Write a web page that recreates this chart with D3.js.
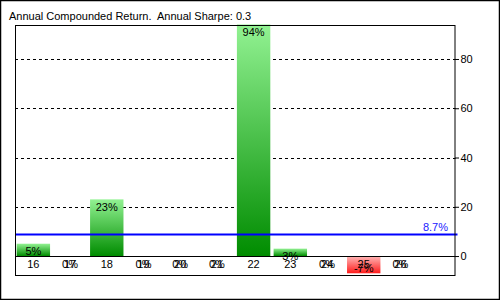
<!DOCTYPE html>
<html lang="en">
    <head>
        <meta charset="utf-8">
        <title>Annual Compounded Return</title>
        <script type="text/javascript" src="https://cdn.jsdelivr.net/npm/d3@7"></script>
        <style>
            body { margin: 0; background: #fff; }
            text { font-family: "Liberation Sans", sans-serif; font-size: 11px; }
        </style>
    </head>
    <body>
        <script type="text/javascript">

            // chart data
            var years = ["16", "17", "18", "19", "20", "21", "22", "23", "24", "25", "26"];
            var returns = [5, 0, 23, 0, 0, 0, 94, 3, 0, -7, 0];
            var yTicks = [0, 20, 40, 60, 80];
            var avgReturn = 8.7;
            var sharpe = 0.3;

            var w = 500;
            var h = 300;
            var plotLeft = 15, plotRight = 455.5, plotTop = 25, plotBottom = 275;

            var svg = d3.select("body")
                .append("svg")
                .attr("width", w)
                .attr("height", h);

            // outer border
            svg.append("rect")
                .attr("x", 0.5).attr("y", 0.5)
                .attr("width", w - 1).attr("height", h - 1)
                .attr("fill", "white")
                .attr("stroke", "black")
                .attr("stroke-width", 1.5);

            svg.append("text")
                .attr("x", 9)
                .attr("y", 20)
                .attr("fill", "black")
                .style("white-space", "pre")
                .text("Annual Compounded Return.  Annual Sharpe: " + sharpe);

            // one empty slot is left after the last year
            var slot = (plotRight - plotLeft) / (years.length + 1);
            var x = d3.scaleBand()
                .domain(years)
                .range([plotLeft, plotLeft + slot * years.length])
                .paddingInner(0.09)
                .paddingOuter(0.045);

            var y = d3.scaleLinear()
                .domain([-7.7, 93.8])
                .range([plotBottom, plotTop]);

            var defs = svg.append("defs");
            var gGreen = defs.append("linearGradient").attr("id", "green")
                .attr("x1", 0).attr("y1", 0).attr("x2", 0).attr("y2", 1);
            gGreen.append("stop").attr("offset", "0%").attr("stop-color", "#92f292");
            gGreen.append("stop").attr("offset", "100%").attr("stop-color", "#008c00");
            var gRed = defs.append("linearGradient").attr("id", "red")
                .attr("x1", 0).attr("y1", 0).attr("x2", 0).attr("y2", 1);
            gRed.append("stop").attr("offset", "0%").attr("stop-color", "#ffb8b8");
            gRed.append("stop").attr("offset", "100%").attr("stop-color", "#ff1c1c");

            // dashed grid
            svg.selectAll("line.grid")
                .data(yTicks.filter(function(d) { return d != 0; }))
                .enter()
                .append("line")
                .attr("class", "grid")
                .attr("x1", plotLeft).attr("x2", plotRight)
                .attr("y1", function(d) { return Math.round(y(d)) + 0.5; })
                .attr("y2", function(d) { return Math.round(y(d)) + 0.5; })
                .attr("stroke", "black")
                .attr("stroke-dasharray", "3,3");

            // bars
            svg.selectAll("rect.bar")
                .data(returns)
                .enter()
                .append("rect")
                .attr("class", "bar")
                .attr("x", function(d, i) { return x(years[i]); })
                .attr("y", function(d) { return y(Math.max(d, 0)); })
                .attr("width", x.bandwidth())
                .attr("height", function(d) { return Math.abs(y(d) - y(0)); })
                .attr("fill", function(d) { return d < 0 ? "url(#red)" : "url(#green)"; });

            // zero line
            svg.append("line")
                .attr("x1", plotLeft).attr("x2", plotRight)
                .attr("y1", Math.round(y(0)) + 0.5).attr("y2", Math.round(y(0)) + 0.5)
                .attr("stroke", "black");

            // average line
            svg.append("line")
                .attr("x1", plotLeft).attr("x2", plotRight + 2)
                .attr("y1", y(avgReturn)).attr("y2", y(avgReturn))
                .attr("stroke", "#0000ff")
                .attr("stroke-width", 2);

            svg.append("text")
                .attr("x", 448)
                .attr("y", y(avgReturn) - 4)
                .attr("text-anchor", "end")
                .attr("fill", "#2020ff")
                .text(avgReturn + "%");

            // year labels
            svg.selectAll("text.year")
                .data(years)
                .enter()
                .append("text")
                .attr("class", "year")
                .attr("x", function(d) { return x(d) + x.bandwidth() / 2; })
                .attr("y", y(0) + 12)
                .attr("text-anchor", "middle")
                .attr("fill", "black")
                .text(function(d) { return d; });

            // value labels
            svg.selectAll("text.value")
                .data(returns)
                .enter()
                .append("text")
                .attr("class", "value")
                .attr("x", function(d, i) { return x(years[i]) + x.bandwidth() / 2; })
                .attr("y", function(d) {
                    return d < 0 ? y(d) - 1.5 : y(d) + 11.5;
                })
                .attr("text-anchor", "middle")
                .attr("fill", "black")
                .text(function(d) { return d + "%"; });

            // plot frame
            svg.append("rect")
                .attr("x", plotLeft + 0.5).attr("y", plotTop + 0.5)
                .attr("width", plotRight - plotLeft - 1).attr("height", plotBottom - plotTop)
                .attr("fill", "none")
                .attr("stroke", "black");

            // right axis
            var axis = svg.append("g")
                .attr("transform", "translate(" + (plotRight - 0.5) + ",0)")
                .call(d3.axisRight(y).tickValues(yTicks).tickSize(4).tickPadding(1.5));
            axis.select(".domain").remove();
            axis.selectAll("text")
                .attr("fill", "black")
                .style("font-family", "Liberation Sans, sans-serif")
                .style("font-size", "11px");

        </script>
    </body>
</html>
